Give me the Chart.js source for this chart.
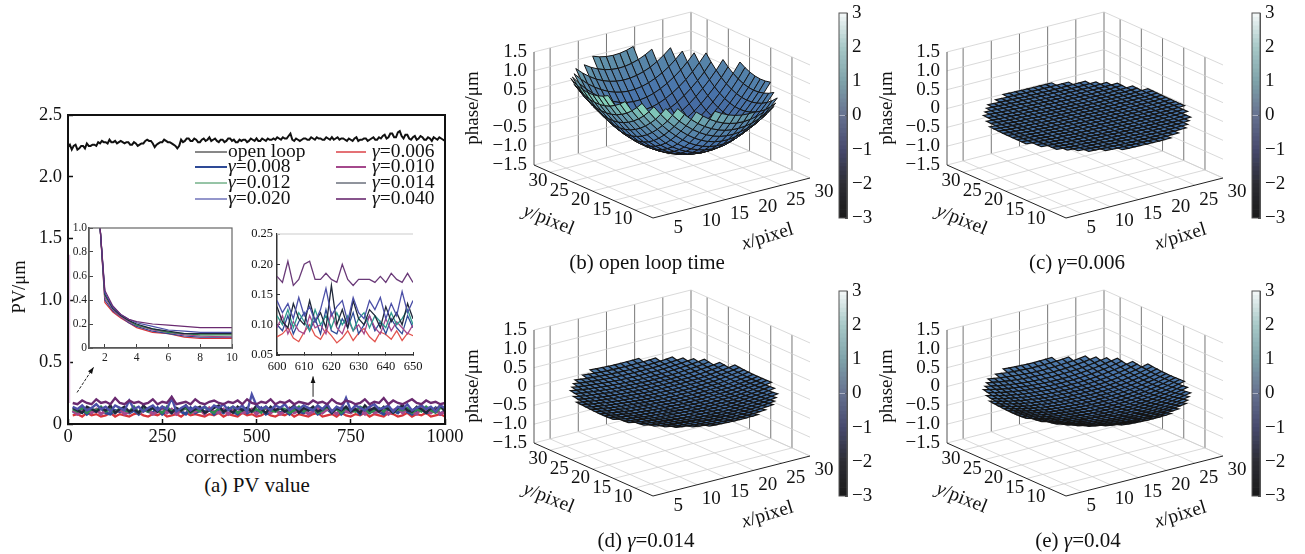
<!DOCTYPE html>
<html>
<head>
<meta charset="utf-8">
<title>PV value and residual phase</title>
<script src="https://cdn.jsdelivr.net/npm/chart.js@4/dist/chart.umd.min.js"></script>
<style>
  html, body { margin: 0; background: #fff; }
  #page { position: relative; width: 1305px; height: 554px; overflow: hidden; font-family: 'Liberation Serif', serif; color: #111; }
  #page canvas { position: absolute; }
  .cap { position: absolute; font-size: 21px; line-height: 24px; white-space: nowrap; transform: translateX(-50%); }
</style>
</head>
<body>
<div id="page"></div>
<script>
// ---- panel (a): PV value, one value every 5 corrections ----
const openLoopX = Array.from({length: 201}, (_, k) => k * 5);
const openLoop = [2.24,2.26,2.22,2.25,2.26,2.22,2.23,2.25,2.25,2.23,2.27,2.25,2.25,2.26,2.26,2.25,2.28,2.27,2.29,2.28,
  2.28,2.27,2.30,2.28,2.28,2.29,2.27,2.28,2.29,2.28,2.27,2.28,2.28,2.26,2.26,2.28,2.27,2.25,2.26,2.27,
  2.27,2.29,2.30,2.29,2.29,2.27,2.24,2.26,2.27,2.28,2.28,2.30,2.29,2.28,2.28,2.27,2.26,2.25,2.23,2.25,
  2.30,2.28,2.29,2.31,2.31,2.29,2.29,2.31,2.30,2.28,2.28,2.30,2.31,2.29,2.30,2.32,2.29,2.30,2.31,2.29,
  2.28,2.30,2.30,2.28,2.29,2.31,2.31,2.29,2.30,2.28,2.28,2.30,2.29,2.30,2.30,2.28,2.29,2.31,2.30,2.29,
  2.31,2.29,2.29,2.31,2.30,2.29,2.31,2.30,2.30,2.31,2.30,2.32,2.31,2.30,2.32,2.31,2.31,2.33,2.35,2.30,
  2.29,2.31,2.30,2.29,2.30,2.31,2.31,2.30,2.30,2.32,2.31,2.30,2.32,2.31,2.31,2.30,2.30,2.32,2.31,2.30,
  2.32,2.30,2.31,2.32,2.30,2.31,2.31,2.30,2.29,2.31,2.30,2.29,2.31,2.32,2.29,2.30,2.30,2.31,2.31,2.29,
  2.30,2.31,2.32,2.30,2.30,2.32,2.31,2.33,2.34,2.31,2.32,2.35,2.35,2.32,2.32,2.36,2.37,2.33,2.31,2.34,
  2.34,2.31,2.30,2.32,2.33,2.30,2.31,2.33,2.32,2.30,2.30,2.32,2.31,2.29,2.32,2.31,2.30,2.32,2.31,2.30,2.29];

const bandX = Array.from({length: 80}, (_, k) => (k + 1) * 12.5);
const firstDropX = [4, 4];
const firstDropY = [1.37, .17];
const gamma006 = [.07,.08,.06,.09,.07,.08,.06,.07,.09,.06,
  .08,.07,.06,.08,.09,.07,.06,.08,.07,.09,
  .06,.07,.08,.06,.09,.07,.08,.07,.06,.08,
  .07,.09,.06,.08,.07,.06,.09,.07,.08,.06,
  .07,.09,.07,.06,.08,.07,.09,.06,.08,.07,
  .06,.08,.09,.06,.07,.08,.06,.09,.07,.06,
  .08,.07,.09,.06,.08,.07,.06,.09,.08,.06,
  .07,.09,.06,.08,.07,.09,.06,.07,.08,.06];
const gamma008 = [.10,.09,.12,.08,.11,.10,.13,.09,.08,.11,
  .10,.12,.09,.11,.08,.12,.10,.09,.13,.08,
  .11,.09,.12,.10,.08,.13,.09,.11,.10,.12,
  .08,.11,.09,.13,.10,.08,.12,.09,.11,.10,
  .13,.08,.10,.12,.09,.11,.08,.12,.10,.09,
  .11,.13,.08,.10,.12,.09,.13,.08,.11,.10,
  .12,.08,.11,.09,.13,.10,.08,.12,.11,.09,
  .13,.10,.08,.11,.12,.09,.10,.13,.08,.11];
const gamma010 = [.11,.08,.10,.13,.09,.12,.08,.11,.13,.09,
  .12,.08,.10,.13,.09,.11,.12,.08,.10,.13,
  .09,.12,.08,.11,.13,.09,.10,.12,.08,.13,
  .10,.09,.12,.08,.11,.13,.09,.10,.12,.08,
  .11,.13,.09,.12,.08,.10,.13,.09,.11,.12,
  .08,.10,.13,.09,.12,.11,.08,.13,.10,.09,
  .12,.11,.08,.13,.09,.10,.12,.08,.11,.13,
  .09,.12,.10,.08,.13,.11,.09,.12,.08,.10];
const gamma012 = [.12,.10,.13,.09,.12,.11,.14,.10,.12,.09,
  .13,.11,.10,.14,.09,.12,.10,.13,.11,.09,
  .14,.10,.12,.11,.13,.09,.12,.10,.14,.11,
  .09,.13,.10,.12,.14,.09,.11,.13,.10,.12,
  .09,.14,.11,.10,.13,.12,.09,.11,.14,.10,
  .12,.13,.09,.11,.14,.10,.12,.09,.13,.11,
  .10,.14,.12,.09,.11,.13,.10,.14,.09,.12,
  .11,.13,.09,.12,.10,.14,.11,.09,.13,.12];
const gamma014 = [.13,.11,.09,.14,.12,.10,.13,.11,.15,.09,
  .12,.14,.10,.12,.09,.15,.11,.13,.10,.14,
  .12,.09,.13,.11,.15,.10,.12,.14,.09,.11,
  .13,.15,.10,.12,.09,.14,.11,.13,.10,.15,
  .12,.09,.14,.11,.13,.10,.12,.15,.09,.13,
  .11,.14,.10,.12,.15,.09,.13,.11,.14,.10,
  .12,.09,.15,.11,.13,.10,.14,.12,.09,.13,
  .15,.11,.10,.14,.12,.09,.13,.11,.15,.10];
const gamma020 = [.14,.12,.15,.11,.13,.16,.12,.14,.10,.15,
  .13,.11,.19,.12,.14,.10,.13,.15,.11,.14,
  .12,.21,.10,.13,.15,.11,.14,.12,.14,.11,
  .15,.13,.16,.11,.14,.12,.15,.10,.24,.15,
  .12,.14,.11,.15,.13,.16,.11,.14,.12,.15,
  .13,.11,.15,.12,.16,.10,.14,.12,.21,.11,
  .15,.13,.11,.14,.16,.12,.13,.15,.10,.14,
  .12,.16,.11,.13,.15,.12,.14,.10,.15,.13];
const gamma040 = [.17,.16,.19,.17,.16,.20,.17,.18,.16,.21,
  .17,.16,.19,.17,.18,.16,.17,.20,.16,.18,
  .17,.22,.16,.17,.18,.16,.20,.17,.16,.18,
  .19,.17,.16,.18,.17,.19,.16,.20,.17,.16,
  .18,.17,.20,.16,.18,.17,.19,.16,.18,.17,
  .16,.19,.17,.18,.16,.20,.17,.16,.19,.18,
  .16,.17,.20,.16,.18,.17,.21,.16,.19,.17,
  .16,.18,.20,.17,.16,.19,.17,.18,.16,.17];

// ---- inset: first ten corrections ----
const startX = [1,1.7,2,2.5,3,3.5,4,5,6,7,8,10];
const start006 = [1.6,1,.38,.30,.25,.21,.17,.13,.12,.09,.08,.08];
const start008 = [1.6,1,.40,.31,.26,.21,.18,.14,.12,.10,.09,.09];
const start010 = [1.6,1,.42,.32,.26,.22,.19,.15,.13,.11,.10,.09];
const start012 = [1.6,1,.44,.33,.27,.23,.19,.16,.13,.12,.11,.11];
const start014 = [1.6,1,.45,.33,.27,.23,.20,.16,.14,.12,.12,.12];
const start020 = [1.6,1,.46,.34,.28,.24,.21,.18,.15,.14,.13,.13];
const start040 = [1.6,1,.48,.35,.28,.24,.22,.20,.19,.18,.17,.17];
const startXTicks = [2,4,6,8,10];

// ---- inset: corrections 600 to 650 ----
const zoomX = [600,602,604,606,608,610,612,614,616,618,620,622,624,626,628,630,632,634,636,638,640,642,644,646,648,650];
const zoom006 = [.080,.085,.095,.078,.072,.088,.100,.082,.076,.092,.082,.070,.078,.090,.074,.086,.094,.080,.072,.088,.084,.076,.090,.074,.086,.082];
const zoom008 = [.100,.090,.115,.085,.105,.120,.090,.110,.085,.125,.090,.085,.110,.095,.120,.085,.100,.115,.090,.105,.085,.110,.095,.085,.115,.095];
const zoom010 = [.095,.115,.085,.105,.090,.085,.115,.095,.100,.085,.120,.095,.085,.110,.090,.100,.085,.115,.095,.085,.110,.090,.105,.095,.085,.100];
const zoom012 = [.115,.100,.125,.095,.120,.105,.090,.125,.100,.115,.095,.120,.100,.115,.090,.110,.120,.095,.115,.105,.095,.120,.100,.110,.125,.100];
const zoom014 = [.130,.105,.095,.135,.110,.100,.140,.105,.120,.095,.165,.100,.125,.095,.140,.110,.100,.125,.115,.095,.130,.105,.120,.100,.135,.110];
const zoom020 = [.140,.120,.135,.110,.145,.115,.130,.105,.125,.160,.115,.130,.140,.105,.145,.120,.110,.140,.125,.145,.110,.135,.115,.155,.120,.140];
const zoom040 = [.180,.170,.205,.165,.175,.200,.205,.175,.175,.185,.175,.170,.200,.175,.165,.175,.175,.175,.170,.180,.170,.185,.175,.170,.185,.170];

// ---- panels (b)-(e): height of the phase surface by distance from its centre (0,1,2..15) ----
const openLoopProfile = [-.95,-.94,-.92,-.88,-.82,-.75,-.66,-.55,-.43,-.28,-.11,.07,.26,.46,.69,.93];
const gamma006Profile = [-.08,-.08,-.08,-.08,-.08,-.08,-.08,-.08,-.07,-.07,-.07,-.06,-.06,-.05,-.04,-.03];
const gamma014Profile = [-.17,-.17,-.17,-.16,-.16,-.15,-.14,-.13,-.12,-.11,-.09,-.07,-.05,-.03,0,.03];
const gamma040Profile = [-.25,-.25,-.24,-.24,-.23,-.22,-.21,-.19,-.17,-.15,-.12,-.09,-.06,-.02,.02,.06];
const xTicks3d = [5,10,15,20,25,30];
const yTicks3d = [10,15,20,25,30];
const zTicks3d = [-1.5,-1,-.5,0,.5,1,1.5];
const barTicks = [-3,-2,-1,0,1,2,3];

const seriesNames = ['γ=0.006','γ=0.008','γ=0.010','γ=0.012','γ=0.014','γ=0.020','γ=0.040'];
const seriesColors = ['#d8343a','#2e4a96','#a4488c','#2f8a4e','#20283a','#4c50a8','#6a2a70'];
const legendWidths = [1.4,2,2,1,1,1.2,1.6];
const bandWidths = [2.2,3,3,2.4,2.4,2.4,2.4];

Chart.defaults.font.family = "'Liberation Serif', serif";
Chart.defaults.color = '#111';
Chart.defaults.animation = false;
Chart.defaults.events = [];
Chart.defaults.plugins.legend.display = false;
Chart.defaults.plugins.tooltip.enabled = false;
Chart.defaults.responsive = false;

const page = document.getElementById('page');
function addCanvas(left, top, w, h) {
  const c = document.createElement('canvas');
  c.width = w; c.height = h;
  c.style.left = left + 'px'; c.style.top = top + 'px';
  c.style.width = w + 'px'; c.style.height = h + 'px';
  page.appendChild(c);
  return c;
}
function addCaption(cx, top, html) {
  const d = document.createElement('div');
  d.className = 'cap';
  d.style.left = cx + 'px'; d.style.top = top + 'px';
  d.innerHTML = html;
  page.appendChild(d);
}
const pairs = (xs, ys) => xs.map((x, i) => ({x: x, y: ys[i]}));
const minusSign = v => String(v).replace('-', '−');
// keep the tick labels from pushing the plot area in
const noOverhang = s => { s.paddingTop = 0; s.paddingBottom = 0; s.paddingLeft = 0; s.paddingRight = 0; };

// draws "γ=0.006" or "y/pixel" with the first letter in italics
function mixedText(ctx, text, x, y, size) {
  ctx.font = 'italic ' + size + "px 'Liberation Serif'";
  ctx.textAlign = 'left';
  ctx.textBaseline = 'middle';
  ctx.fillText(text[0], x, y);
  const w = ctx.measureText(text[0]).width;
  ctx.font = size + "px 'Liberation Serif'";
  ctx.fillText(text.slice(1), x + w, y);
}
function rotatedText(ctx, text, x, y, size, degrees) {
  ctx.save();
  ctx.translate(x, y);
  ctx.rotate(degrees * Math.PI / 180);
  ctx.font = size + "px 'Liberation Serif'";
  ctx.textAlign = 'center';
  ctx.textBaseline = 'middle';
  ctx.fillText(text, 0, 0);
  ctx.restore();
}
function framePlugin(color, width) {
  return {
    id: 'frame',
    afterDraw(chart) {
      const a = chart.chartArea, ctx = chart.ctx;
      ctx.save();
      ctx.strokeStyle = color; ctx.lineWidth = width;
      ctx.strokeRect(a.left, a.top, a.right - a.left, a.bottom - a.top);
      ctx.restore();
    }
  };
}

// ---- main PV chart ----
const bandSeries = [gamma006, gamma008, gamma010, gamma012, gamma014, gamma020, gamma040];
const mainSets = [{
  data: pairs(openLoopX, openLoop), borderColor: '#111', borderWidth: 2, pointRadius: 0, showLine: true, order: 0
}, {
  data: pairs(firstDropX, firstDropY), borderColor: '#e2bce0', borderWidth: 1.5, pointRadius: 0, showLine: true, order: 1
}];
bandSeries.forEach((vals, i) => {
  mainSets.push({
    data: pairs(bandX, vals), borderColor: seriesColors[i], borderWidth: bandWidths[i],
    pointRadius: 0, showLine: true, order: -i
  });
});

const mainLegend = {
  id: 'mainLegend',
  afterDraw(chart) {
    const ctx = chart.ctx;
    const rows = [52, 67, 83, 99];
    ctx.save();
    ctx.fillStyle = '#111';
    ctx.strokeStyle = '#111'; ctx.lineWidth = 1;
    ctx.beginPath(); ctx.moveTo(195, rows[0]); ctx.lineTo(227, rows[0]); ctx.stroke();
    ctx.font = "19.5px 'Liberation Serif'"; ctx.textAlign = 'left'; ctx.textBaseline = 'middle';
    ctx.fillText('open loop', 228, rows[0]);
    seriesNames.forEach((name, i) => {
      const slot = i + 1;
      const row = rows[Math.floor(slot / 2)];
      const second = slot % 2 === 1;
      ctx.strokeStyle = seriesColors[i];
      ctx.lineWidth = legendWidths[i];
      ctx.beginPath();
      ctx.moveTo(second ? 336 : 195, row); ctx.lineTo(second ? 366 : 227, row); ctx.stroke();
      mixedText(ctx, name, second ? 372 : 228, row, 19.5);
    });
    // axis names sit off-centre in the original
    rotatedText(ctx, 'PV/μm', 20, 187, 18.5, -90);
    rotatedText(ctx, 'correction numbers', 261, 358, 19.5, 0);
    // the two arrows pointing at the insets
    const xs = chart.scales.x, ys = chart.scales.y;
    const arrow = (x0, y0, x1, y1, dash) => {
      const ax = xs.getPixelForValue(x0), ay = ys.getPixelForValue(y0);
      const bx = xs.getPixelForValue(x1), by = ys.getPixelForValue(y1);
      const t = Math.atan2(by - ay, bx - ax);
      ctx.strokeStyle = '#222'; ctx.fillStyle = '#111'; ctx.lineWidth = 1;
      ctx.setLineDash(dash);
      ctx.beginPath(); ctx.moveTo(ax, ay); ctx.lineTo(bx, by); ctx.stroke();
      ctx.setLineDash([]);
      ctx.beginPath(); ctx.moveTo(bx, by);
      ctx.lineTo(bx - 7 * Math.cos(t - .35), by - 7 * Math.sin(t - .35));
      ctx.lineTo(bx - 7 * Math.cos(t + .35), by - 7 * Math.sin(t + .35));
      ctx.closePath(); ctx.fill();
    };
    arrow(24, .255, 68, .46, [3, 1.5]);
    arrow(650, .22, 650, .385, []);
    ctx.restore();
  }
};

new Chart(addCanvas(0, 100, 485, 370), {
  type: 'scatter',
  data: {datasets: mainSets},
  options: {
    layout: {padding: {top: 15, right: 40, left: 0, bottom: 0}},
    scales: {
      x: {
        type: 'linear', min: 0, max: 1000,
        ticks: {stepSize: 250, font: {size: 18.5}, padding: 7, maxRotation: 0, color: '#111', callback: v => String(v)},
        grid: {drawOnChartArea: false, tickLength: -5, tickColor: '#111', tickWidth: 1.5},
        border: {color: '#111', width: 2},
        afterFit(s) { s.height = 46; noOverhang(s); }
      },
      y: {
        type: 'linear', min: 0, max: 2.5,
        ticks: {stepSize: .5, font: {size: 18.5}, padding: 11, color: '#111', callback: v => v === 0 ? '0' : v.toFixed(1)},
        grid: {drawOnChartArea: false, tickLength: -5, tickColor: '#111', tickWidth: 1.5},
        border: {color: '#111', width: 2},
        afterFit(s) { s.width = 68; noOverhang(s); }
      }
    }
  },
  plugins: [framePlugin('#111', 2), mainLegend]
});
addCaption(257, 473, '(a) PV value');

// ---- inset 1 ----
const startSeries = [start006, start008, start010, start012, start014, start020, start040];
new Chart(addCanvas(60, 218, 185, 150), {
  type: 'scatter',
  data: {datasets: startSeries.map((vals, i) => ({
    data: pairs(startX, vals), borderColor: seriesColors[i], borderWidth: 1.2, pointRadius: 0, showLine: true, order: -i
  }))},
  options: {
    layout: {padding: {top: 10, right: 13, left: 0, bottom: 0}},
    scales: {
      x: {
        type: 'linear', min: 1, max: 10,
        afterBuildTicks(s) { s.ticks = startXTicks.map(v => ({value: v})); },
        ticks: {font: {size: 11.5}, padding: 7, maxRotation: 0, color: '#222'},
        grid: {drawOnChartArea: false, tickLength: -4, tickColor: '#444'},
        border: {color: '#444', width: 1.5},
        afterFit(s) { s.height = 20; noOverhang(s); }
      },
      y: {
        type: 'linear', min: 0, max: 1,
        ticks: {stepSize: .2, font: {size: 11.5}, padding: 6, color: '#222', callback: v => v === 0 ? '0' : v.toFixed(1)},
        grid: {drawOnChartArea: false, tickLength: -4, tickColor: '#444'},
        border: {color: '#444', width: 1.5},
        afterFit(s) { s.width = 29; noOverhang(s); }
      }
    }
  },
  plugins: [framePlugin('#666', 1.2)]
});

// ---- inset 2 ----
const zoomSeries = [zoom006, zoom008, zoom010, zoom012, zoom014, zoom020, zoom040];
const zoomColors = ['#e2544e','#2e4a96','#a4488c','#2f9a8e','#20283a','#4c50a8','#6a3a78'];
new Chart(addCanvas(235, 222, 195, 155), {
  type: 'scatter',
  data: {datasets: zoomSeries.map((vals, i) => ({
    data: pairs(zoomX, vals), borderColor: zoomColors[i], borderWidth: 1.3, pointRadius: 0, showLine: true, order: -i
  }))},
  options: {
    layout: {padding: {top: 12, right: 17, left: 0, bottom: 0}},
    scales: {
      x: {
        type: 'linear', min: 600, max: 650,
        ticks: {stepSize: 10, font: {size: 12.5}, padding: 7, maxRotation: 0, color: '#111'},
        grid: {drawOnChartArea: false, tickLength: -3, tickColor: '#333'},
        border: {color: '#333', width: 1.5},
        afterFit(s) { s.height = 22; noOverhang(s); }
      },
      y: {
        type: 'linear', min: .05, max: .25,
        ticks: {stepSize: .05, font: {size: 12.5}, padding: 7, color: '#111', callback: v => v.toFixed(2)},
        grid: {drawOnChartArea: false, tickLength: -3, tickColor: '#333'},
        border: {color: '#333', width: 1.5},
        afterFit(s) { s.width = 42; noOverhang(s); }
      }
    }
  },
  plugins: [{
    id: 'topLine',
    afterDraw(chart) {
      const a = chart.chartArea, ctx = chart.ctx;
      ctx.save(); ctx.strokeStyle = '#ddd'; ctx.lineWidth = 1.5;
      ctx.beginPath(); ctx.moveTo(a.left, a.top); ctx.lineTo(a.right, a.top); ctx.stroke();
      ctx.restore();
    }
  }]
});

// ---- colour helpers ----
const barStops = [[-3,'#1a1a1a'],[-2,'#2c2c34'],[-1,'#474a6e'],[0,'#667290'],[1,'#7fa3aa'],[2,'#a8c9c8'],[3,'#f6f9f9']];
const surfStops = [[-1,'#3e5a92'],[-.1,'#4a76ac'],[.5,'#5a88a8'],[.9,'#6ca3ae'],[1.2,'#84cfba']];
function rgb(hex) { return [1, 3, 5].map(i => parseInt(hex.substr(i, 2), 16)); }
function colourAt(stops, v) {
  if (v <= stops[0][0]) return stops[0][1];
  for (let i = 1; i < stops.length; i++) {
    if (v <= stops[i][0]) {
      const t = (v - stops[i - 1][0]) / (stops[i][0] - stops[i - 1][0]);
      const a = rgb(stops[i - 1][1]), b = rgb(stops[i][1]);
      return 'rgb(' + a.map((c, k) => Math.round(c + (b[k] - c) * t)).join(',') + ')';
    }
  }
  return stops[stops.length - 1][1];
}

// ---- colour bar, a real bar chart on a -3..3 axis ----
function colourBar(left, top, withTitle) {
  const sets = [];
  for (let lo = -3; lo < 3; lo += .125) {
    sets.push({data: [[lo, lo + .125]], backgroundColor: colourAt(barStops, lo + .06), borderWidth: 0,
      barPercentage: 1, categoryPercentage: 1});
  }
  new Chart(addCanvas(left, top, 68, 232), {
    type: 'bar',
    data: {labels: [''], datasets: sets},
    options: {
      layout: {padding: {top: 13, bottom: 14, left: 9, right: 0}},
      scales: {
        x: {stacked: true, display: false},
        y: {
          position: 'right', min: -3, max: 3,
          afterBuildTicks(s) { s.ticks = barTicks.map(v => ({value: v})); },
          ticks: {font: {size: 19}, padding: 7, color: '#111', callback: minusSign},
          grid: {drawOnChartArea: false, tickLength: -2, tickColor: '#444'},
          border: {color: '#555', width: 1},
          afterFit(s) { s.width = 51; noOverhang(s); }
        }
      }
    },
    plugins: [framePlugin('#555', 1), {
      id: 'barTitle',
      afterDraw(chart) {
        if (!withTitle) return;
        chart.ctx.fillStyle = '#111';
        rotatedText(chart.ctx, 'phase/μm', 57, 108, 19, -90);
      }
    }]
  });
}

// ---- 3D panels: every point goes through project() and then the chart's own pixel scales ----
const xMin = 2.14, xMax = 30, yMin = 5.75, yMax = 33.8;
const frontX = 193, frontY = 218;
const xStepPx = [157 / 27.86, -40 / 27.86], yStepPx = [-119 / 28.05, -53 / 28.05], zStepPx = -37.67;
const meshCentre = [16.3, 19.6], meshRadius = 14.9;

function project(x, y, z) {
  const dx = x - xMin, dy = y - yMin, dz = z + 1.5;
  return {x: frontX + dx * xStepPx[0] + dy * yStepPx[0], y: frontY + dx * xStepPx[1] + dy * yStepPx[1] + dz * zStepPx};
}
function segment(a, b, color, width) {
  return {data: [project(a[0], a[1], a[2]), project(b[0], b[1], b[2])], borderColor: color, borderWidth: width,
    pointRadius: 0, showLine: true};
}
function surfaceHeight(panel, x, y) {
  const dx = x - meshCentre[0], dy = y - meshCentre[1];
  const r = Math.sqrt(dx * dx + dy * dy);
  const i = Math.min(Math.floor(r), panel.profile.length - 2);
  const bowl = panel.profile[i] + (panel.profile[i + 1] - panel.profile[i]) * (r - i);
  return bowl + panel.tilt[0] * (dy - dx) - panel.tilt[1] * (dx + dy) + panel.saddle * 4 * dx * dy;
}
function surfacePanel(opts) {
  const sets = [];
  const light = '#cfcfcf', wall = '#777';
  xTicks3d.forEach(x => {
    sets.push(segment([x, yMin, -1.5], [x, yMax, -1.5], light, .8));
    sets.push(segment([x, yMax, -1.5], [x, yMax, 1.5], wall, 1));
  });
  yTicks3d.forEach(y => {
    sets.push(segment([xMin, y, -1.5], [xMax, y, -1.5], light, .8));
    sets.push(segment([xMax, y, -1.5], [xMax, y, 1.5], wall, 1));
  });
  zTicks3d.forEach(z => {
    sets.push(segment([xMin, yMax, z], [xMax, yMax, z], light, .8));
    sets.push(segment([xMax, yMax, z], [xMax, yMin, z], light, .8));
  });
  sets.push(segment([xMin, yMax, -1.5], [xMin, yMax, 1.5], '#555', 1));
  sets.push(segment([xMin, yMin, -1.5], [xMax, yMin, -1.5], '#222', 1));
  sets.push(segment([xMin, yMin, -1.5], [xMin, yMax, -1.5], '#222', 1));

  // far cells first so nearer cells paint over them
  const h = (x, y) => surfaceHeight(opts, x, y);
  const inside = (x, y) => Math.hypot(x - meshCentre[0], y - meshCentre[1]) <= meshRadius;
  const step = opts.step, n = Math.ceil(meshRadius / step) + 1;
  for (let i = n; i >= -n; i--) {
    for (let j = n; j >= -n; j--) {
      const x0 = meshCentre[0] + i * step, y0 = meshCentre[1] + j * step;
      const x1 = x0 + step, y1 = y0 + step;
      if (!inside(x0, y0) || !inside(x1, y0) || !inside(x0, y1) || !inside(x1, y1)) continue;
      const z = [h(x0, y0), h(x1, y0), h(x1, y1), h(x0, y1)];
      const p0 = project(x0, y0, z[0]);
      // the lit front of the bowl reads lighter than its far side
      const shade = (z[0] + z[1] + z[2] + z[3]) / 4 - opts.lean * (i * step + j * step);
      sets.push({
        data: [p0, project(x1, y0, z[1]), project(x1, y1, z[2]), project(x0, y1, z[3]), p0],
        showLine: true, pointRadius: 0, borderColor: '#141414', borderWidth: opts.mesh,
        backgroundColor: colourAt(surfStops, shade), fill: 'shape'
      });
    }
  }
  const labels = {
    id: 'labels3d',
    afterDraw(chart) {
      const ctx = chart.ctx;
      ctx.save();
      ctx.fillStyle = '#111';
      ctx.font = "19px 'Liberation Serif'"; ctx.textBaseline = 'middle';
      ctx.textAlign = 'right';
      zTicks3d.forEach(z => {
        const p = project(xMin, yMax, z);
        ctx.fillText(minusSign(z === 0 ? '0' : z.toFixed(1)), p.x - 7, p.y);
      });
      ctx.textAlign = 'left';
      xTicks3d.forEach(x => {
        const p = project(x, yMin, -1.5);
        ctx.fillText(String(x), p.x + 4.5, p.y + 14.5);
      });
      ctx.textAlign = 'center';
      yTicks3d.forEach(y => {
        const p = project(xMin, y, -1.5);
        ctx.fillText(String(y), p.x - 12, p.y + 9);
      });
      ctx.save(); ctx.translate(307, 237); ctx.rotate(-17 * Math.PI / 180);
      mixedText(ctx, 'x/pixel', -26, 0, 19.5); ctx.restore();
      ctx.save(); ctx.translate(88, 220); ctx.rotate(22 * Math.PI / 180);
      mixedText(ctx, 'y/pixel', -26, 0, 19.5); ctx.restore();
      if (opts.zLabel) rotatedText(ctx, 'phase/μm', 13, 108, 19, -90);
      ctx.restore();
    }
  };
  new Chart(addCanvas(opts.left, opts.top, 400, 275), {
    type: 'scatter',
    data: {datasets: sets.reverse()},
    options: {
      layout: {padding: 0},
      scales: {
        x: {type: 'linear', min: 0, max: 400, display: false},
        y: {type: 'linear', min: 0, max: 275, reverse: true, display: false}
      }
    },
    plugins: [labels]
  });
  colourBar(opts.left + 370, opts.top, opts.zLabel);
}

surfacePanel({left: 460, top: 0, profile: openLoopProfile, tilt: [.0131, .0079], saddle: .00033, step: 1.2, mesh: 1, lean: .012, zLabel: true});
surfacePanel({left: 873, top: 0, profile: gamma006Profile, tilt: [.002, 0], saddle: 0, step: 1.08, mesh: 1.2, lean: 0, zLabel: false});
surfacePanel({left: 460, top: 278, profile: gamma014Profile, tilt: [.003, 0], saddle: 0, step: 1.08, mesh: 1.2, lean: 0, zLabel: true});
surfacePanel({left: 873, top: 278, profile: gamma040Profile, tilt: [.003, 0], saddle: 0, step: 1.08, mesh: 1.2, lean: 0, zLabel: false});

addCaption(647, 250, '(b) open loop time');
addCaption(1077, 250, '(c) <i>γ</i>=0.006');
addCaption(646, 528, '(d) <i>γ</i>=0.014');
addCaption(1078, 528, '(e) <i>γ</i>=0.04');
</script>
</body>
</html>
